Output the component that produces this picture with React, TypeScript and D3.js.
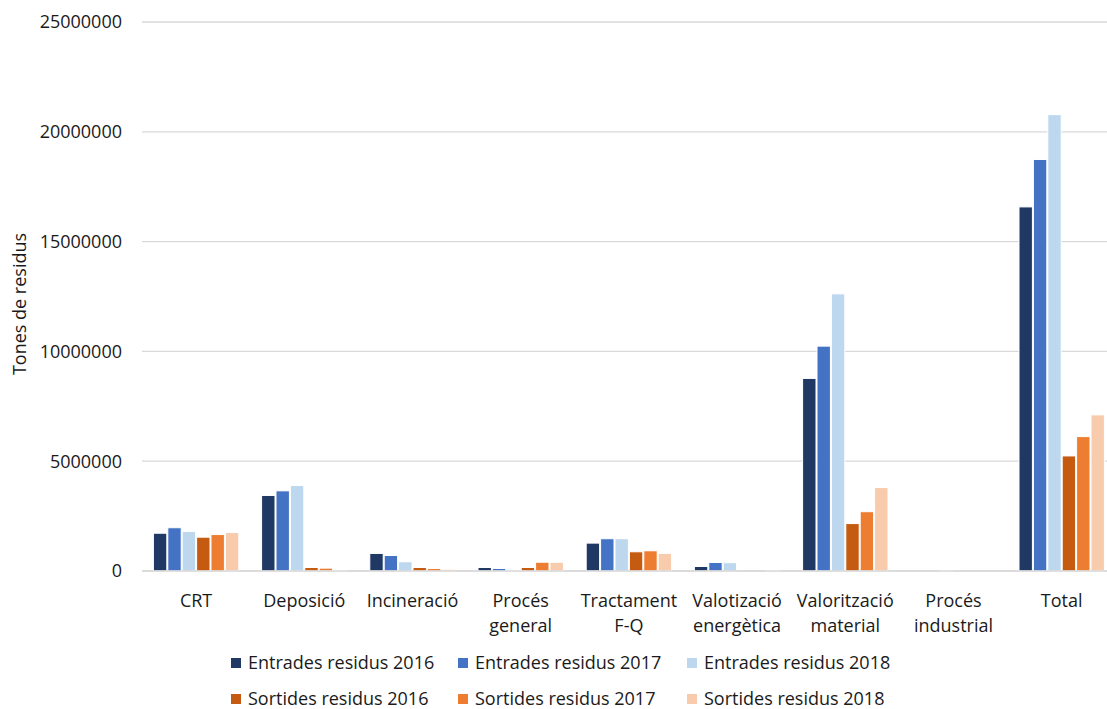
import React from "react";
import * as d3 from "d3";

const categories = [
  ["CRT"],
  ["Deposició"],
  ["Incineració"],
  ["Procés", "general"],
  ["Tractament", "F-Q"],
  ["Valotizació", "energètica"],
  ["Valorització", "material"],
  ["Procés", "industrial"],
  ["Total"],
];

const seriesNames = [
  "Entrades residus 2016",
  "Entrades residus 2017",
  "Entrades residus 2018",
  "Sortides residus 2016",
  "Sortides residus 2017",
  "Sortides residus 2018",
];

const seriesColors = ["#203864", "#4472c4", "#bdd7ee", "#c55a11", "#ed7d31", "#f8cbad"];

const entrades2016 = [1720000, 3440000, 800000, 160000, 1270000, 205000, 8770000, 0, 16580000];
const entrades2017 = [1970000, 3650000, 705000, 115000, 1470000, 387000, 10240000, 0, 18740000];
const entrades2018 = [1800000, 3890000, 420000, 20000, 1470000, 380000, 12620000, 15000, 20780000];
const sortides2016 = [1540000, 160000, 160000, 160000, 875000, 0, 2160000, 0, 5240000];
const sortides2017 = [1660000, 130000, 115000, 400000, 920000, 0, 2700000, 0, 6120000];
const sortides2018 = [1750000, 40000, 80000, 400000, 800000, 30000, 3800000, 0, 7110000];

const seriesValues = [entrades2016, entrades2017, entrades2018, sortides2016, sortides2017, sortides2018];

const yTicks = [0, 5000000, 10000000, 15000000, 20000000, 25000000];

const W = 1107;
const H = 709;
const FONT = "'Open Sans', sans-serif";
const FS = 18;

export default function App() {
  const left = 142;
  const catW = 108.2;
  const right = left + 9 * catW;
  const top = 22;
  const bottom = 571;
  const barStep = 14.4;

  const x = d3
    .scaleBand<number>()
    .domain(categories.map((_, i) => i))
    .range([left, right])
    .paddingInner(0)
    .paddingOuter(0);
  const groupPad = (x.bandwidth() - 6 * barStep) / 2;
  const xi = d3
    .scaleBand<number>()
    .domain(seriesNames.map((_, i) => i))
    .range([groupPad, x.bandwidth() - groupPad]);
  const y = d3.scaleLinear().domain([0, 25000000]).range([bottom, top]);

  const legendX = [231, 458, 687];
  const legendY = [663, 699];

  return (
    <svg width={W} height={H} style={{ position: "absolute", left: 0, top: 0, background: "#fff" }}>
      <rect x={0} y={0} width={W} height={H} fill="#fff" />
      {yTicks.map((t) => (
        <g key={t}>
          <line x1={left} x2={right} y1={y(t)} y2={y(t)} stroke="#d9d9d9" strokeWidth={1.3} />
          <text
            x={122}
            y={y(t)}
            dy="0.35em"
            textAnchor="end"
            fontFamily={FONT}
            fontSize={FS}
            fill="#1a1a1a"
          >
            {t}
          </text>
        </g>
      ))}
      <text
        transform={`translate(26, 304) rotate(-90)`}
        textAnchor="middle"
        fontFamily={FONT}
        fontSize={FS}
        fill="#1a1a1a"
      >
        Tones de residus
      </text>
      {categories.map((c, ci) => (
        <g key={ci}>
          {seriesValues.map((vals, si) => {
            const v = vals[ci];
            if (!v) return null;
            const bx = (x(ci) as number) + (xi(si) as number);
            return (
              <rect
                key={si}
                x={bx + 0.5}
                y={y(v)}
                width={xi.bandwidth() - 1}
                height={bottom - y(v)}
                fill={seriesColors[si]}
                stroke="#ffffff"
                strokeWidth={1}
              />
            );
          })}
          {c.map((line, li) => (
            <text
              key={li}
              x={(x(ci) as number) + x.bandwidth() / 2}
              y={601 + li * 25}
              dy="0.35em"
              textAnchor="middle"
              fontFamily={FONT}
              fontSize={FS}
              fill="#1a1a1a"
            >
              {line}
            </text>
          ))}
        </g>
      ))}
      <line x1={left} x2={right} y1={bottom} y2={bottom} stroke="#d9d9d9" strokeWidth={1.3} />
      {seriesNames.map((name, si) => {
        const lx = legendX[si % 3];
        const ly = legendY[Math.floor(si / 3)];
        return (
          <g key={name}>
            <rect x={lx} y={ly - 5} width={10} height={10} fill={seriesColors[si]} />
            <text x={lx + 17} y={ly} dy="0.35em" fontFamily={FONT} fontSize={FS} fill="#1a1a1a">
              {name}
            </text>
          </g>
        );
      })}
    </svg>
  );
}
